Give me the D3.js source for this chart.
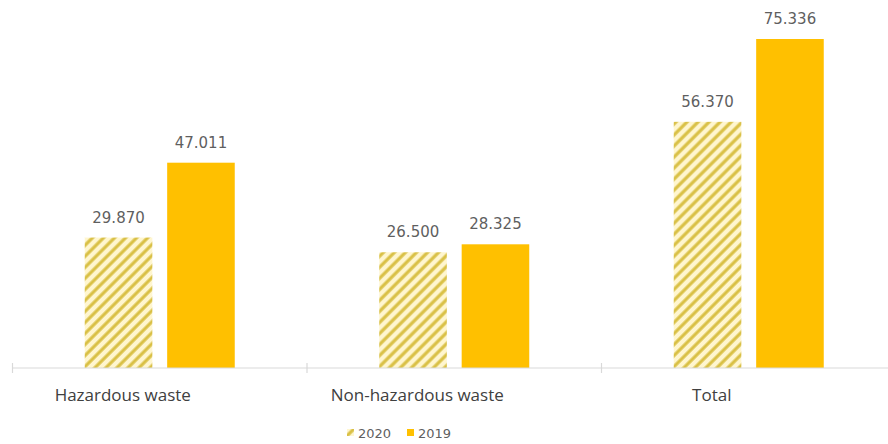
<!DOCTYPE html>
<html>
<head>
<meta charset="utf-8">
<script src="https://cdn.jsdelivr.net/npm/d3@7"></script>
<style>
  html, body { margin: 0; padding: 0; background: #fff; }
  svg { display: block; }
</style>
</head>
<body>
<div id="chart"></div>
<script>
// Waste generated, by type (tonnes, thousands separator shown as ".")
const categories = ["Hazardous waste", "Non-hazardous waste", "Total"];
const seriesNames = ["2020", "2019"];
const values2020 = [29.870, 26.500, 56.370];
const values2019 = [47.011, 28.325, 75.336];
const valueLabels2020 = ["29.870", "26.500", "56.370"];
const valueLabels2019 = ["47.011", "28.325", "75.336"];

const W = 888, H = 444;
const margin = { left: 12.5, right: -8, top: 39, bottom: 76 };
const baseY = H - margin.bottom;

const svg = d3.select("#chart").append("svg")
  .attr("width", W).attr("height", H);

// Diagonal hatch used for the 2020 series
const defs = svg.append("defs");
const pat = defs.append("pattern")
  .attr("id", "hatch")
  .attr("patternUnits", "userSpaceOnUse")
  .attr("width", 7.8).attr("height", 7.8)
  .attr("patternTransform", "rotate(45)");
pat.append("rect").attr("width", 7.8).attr("height", 7.8).attr("fill", "#fff6cf");
pat.append("line")
  .attr("x1", 2).attr("y1", 0).attr("x2", 2).attr("y2", 7.8)
  .attr("stroke", "#d9c045").attr("stroke-width", 3.2);

const x = d3.scaleBand()
  .domain(categories)
  .range([margin.left, W - margin.right])
  .paddingInner(0).paddingOuter(0);

const inner = d3.scaleBand()
  .domain(seriesNames)
  .range([0, 150])
  .paddingInner(0.18);

const y = d3.scaleLinear()
  .domain([0, 75.336])
  .range([baseY, margin.top]);

const groupOffset = (x.bandwidth() - 150) / 2;

const rows = categories.map((c, i) => ({
  cat: c,
  bars: [
    { key: "2020", v: values2020[i], label: valueLabels2020[i] },
    { key: "2019", v: values2019[i], label: valueLabels2019[i] }
  ]
}));

const g = svg.selectAll("g.cat").data(rows).enter().append("g")
  .attr("class", "cat")
  .attr("transform", d => `translate(${x(d.cat) + groupOffset},0)`);

g.selectAll("rect").data(d => d.bars).enter().append("rect")
  .attr("x", d => inner(d.key))
  .attr("width", inner.bandwidth())
  .attr("y", d => y(d.v))
  .attr("height", d => baseY - y(d.v))
  .attr("fill", d => d.key === "2020" ? "url(#hatch)" : "#ffc000");

g.selectAll("text.val").data(d => d.bars).enter().append("text")
  .attr("class", "val")
  .attr("x", d => inner(d.key) + inner.bandwidth() / 2)
  .attr("y", d => y(d.v) - 15)
  .attr("text-anchor", "middle")
  .attr("font-family", "DejaVu Sans, Verdana, sans-serif")
  .attr("font-size", 15)
  .attr("fill", "#5f5f5f")
  .text(d => d.label);

// Category axis
const axis = svg.append("g").attr("transform", `translate(0,${baseY})`);
axis.append("line")
  .attr("x1", x.range()[0]).attr("x2", W)
  .attr("y1", 0).attr("y2", 0)
  .attr("stroke", "#d9d9d9").attr("stroke-width", 1.2);
const bounds = categories.map(c => x(c)).concat([x.range()[1]]);
axis.selectAll("line.tick").data(bounds).enter().append("line")
  .attr("class", "tick")
  .attr("x1", d => d).attr("x2", d => d)
  .attr("y1", -5).attr("y2", 5)
  .attr("stroke", "#d9d9d9").attr("stroke-width", 1.2);
axis.selectAll("text").data(categories).enter().append("text")
  .attr("x", d => x(d) + x.bandwidth() / 2)
  .attr("dx", -37)
  .attr("y", 33)
  .attr("text-anchor", "middle")
  .attr("font-family", "Open Sans, sans-serif")
  .attr("font-size", 17)
  .attr("fill", "#404040")
  .text(d => d);

// Legend
const legend = svg.append("g").attr("transform", "translate(347,433)");
const items = [
  { name: seriesNames[0], fill: "url(#hatch)", x: 0 },
  { name: seriesNames[1], fill: "#ffc000", x: 60 }
];
const li = legend.selectAll("g").data(items).enter().append("g")
  .attr("transform", d => `translate(${d.x},0)`);
li.append("rect")
  .attr("x", 0).attr("y", -4).attr("width", 7).attr("height", 7)
  .attr("fill", d => d.fill);
li.append("text")
  .attr("x", 11).attr("y", 4.5)
  .attr("font-family", "DejaVu Sans, Verdana, sans-serif")
  .attr("font-size", 13)
  .attr("fill", "#5f5f5f")
  .text(d => d.name);
</script>
</body>
</html>
